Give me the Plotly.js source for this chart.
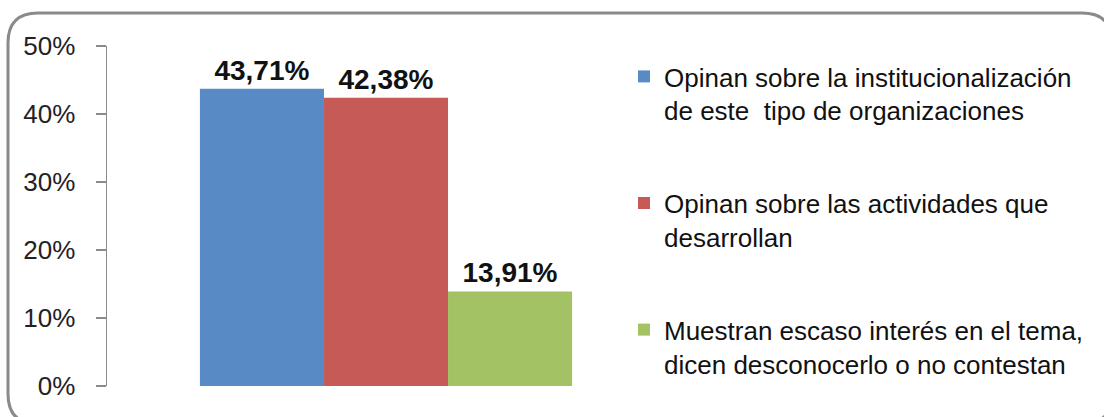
<!DOCTYPE html>
<html>
<head>
<meta charset="utf-8">
<script src="https://cdn.plot.ly/plotly-3.0.1.min.js"></script>
<style>
html,body{margin:0;padding:0;background:#fff;}
#chart{width:1104px;height:417px;}
</style>
</head>
<body>
<div id="chart"></div>
<script>
const seriesNames = [
  'Opinan sobre la institucionalización<br>de este  tipo de organizaciones',
  'Opinan sobre las actividades que<br>desarrollan',
  'Muestran escaso interés en el tema,<br>dicen desconocerlo o no contestan'
];
const seriesValues = [43.71, 42.38, 13.91];
const seriesColors = ['#588AC5', '#C55A57', '#A3C263'];
const category = [''];
const yTicks = [0, 10, 20, 30, 40, 50];

const FONT = '"Liberation Sans", Arial, sans-serif';

const traces = seriesNames.map((name, i) => ({
  type: 'bar',
  name: name,
  x: category,
  y: [seriesValues[i]],
  marker: {color: seriesColors[i], line: {width: 0}},
  legendgroup: 'g' + i,
  text: [seriesValues[i]],
  texttemplate: '%{y:.2f}%',
  textposition: 'outside',
  cliponaxis: false,
  textfont: {family: FONT, size: 28, color: '#111', weight: 'bold'},
  hoverinfo: 'skip'
}));

const W = 1104, H = 417;
const ml = 107, mr = W - 665, mt = 46, mb = H - 386;
const pw = W - ml - mr, ph = H - mt - mb;
// frame in pixels -> paper coords
function px(x){ return (x - ml) / pw; }
function py(y){ return (H - mb - y) / ph; }
const fx0 = 8, fy0 = 13, fx1 = 1112, fy1 = 424, r = 30;
const framePath =
  'M' + px(fx0 + r) + ',' + py(fy0) +
  ' L' + px(fx1 - r) + ',' + py(fy0) +
  ' Q' + px(fx1) + ',' + py(fy0) + ' ' + px(fx1) + ',' + py(fy0 + r) +
  ' L' + px(fx1) + ',' + py(fy1 - r) +
  ' Q' + px(fx1) + ',' + py(fy1) + ' ' + px(fx1 - r) + ',' + py(fy1) +
  ' L' + px(fx0 + r) + ',' + py(fy1) +
  ' Q' + px(fx0) + ',' + py(fy1) + ' ' + px(fx0) + ',' + py(fy1 - r) +
  ' L' + px(fx0) + ',' + py(fy0 + r) +
  ' Q' + px(fx0) + ',' + py(fy0) + ' ' + px(fx0 + r) + ',' + py(fy0) + ' Z';

const layout = {
  width: W, height: H,
  margin: {l: ml, r: mr, t: mt, b: mb, pad: 0},
  paper_bgcolor: '#fff',
  plot_bgcolor: '#fff',
  separators: ',.',
  barmode: 'group',
  bargap: 0.333,
  bargroupgap: 0,
  showlegend: true,
  font: {family: FONT, color: '#111'},
  xaxis: {
    showticklabels: false, showline: false, showgrid: false, zeroline: false,
    ticks: '', fixedrange: true
  },
  yaxis: {
    range: [0, 50],
    tickvals: yTicks,
    ticktext: yTicks.map(v => v + '%'),
    showgrid: false, zeroline: false,
    showline: true, linecolor: '#8c8c8c', linewidth: 1.5,
    ticks: 'outside', ticklen: 10, tickcolor: '#8c8c8c', tickwidth: 1.5,
    ticklabelstandoff: 15,
    tickfont: {family: FONT, size: 26, color: '#222'},
    fixedrange: true
  },
  legend: {
    x: px(624), xanchor: 'left',
    y: py(53), yanchor: 'top',
    valign: 'top',
    tracegroupgap: 56,
    font: {family: FONT, size: 26, color: '#111'},
    bgcolor: 'rgba(0,0,0,0)',
    borderwidth: 0
  },
  shapes: [{
    type: 'path', xref: 'paper', yref: 'paper',
    path: framePath,
    line: {color: '#8a8a8a', width: 3},
    fillcolor: 'rgba(0,0,0,0)',
    layer: 'below'
  }]
};

Plotly.newPlot('chart', traces, layout, {displayModeBar: false, staticPlot: true});
</script>
</body>
</html>
